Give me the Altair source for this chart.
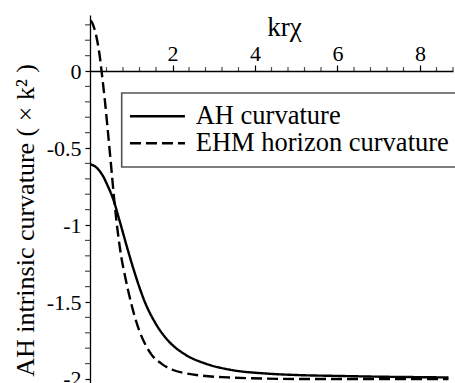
import altair as alt
import pandas as pd

# ---- data ----
ah_x = [0, 0.15, 0.3, 0.42, 0.56, 0.72, 0.92, 1.13, 1.33, 1.57, 1.89, 2.3, 2.8, 3.4, 4.3, 5.1, 6.0, 7.0, 8.0, 8.69]
ah_y = [-0.605, -0.625, -0.675, -0.74, -0.83, -0.975, -1.165, -1.35, -1.50, -1.63, -1.75, -1.84, -1.90, -1.94,
        -1.965, -1.975, -1.98, -1.985, -1.988, -1.99]

ehm_x = [0, 0.05, 0.1, 0.15, 0.2, 0.24, 0.28, 0.36, 0.44, 0.52, 0.6, 0.68, 0.76, 0.84, 0.92, 1.0, 1.08, 1.2,
         1.33, 1.5, 1.73, 2.0, 2.3, 2.7, 3.2, 3.9, 5.0, 8.69]
ehm_y = [0.33, 0.315, 0.28, 0.23, 0.16, 0.09, 0.0, -0.19, -0.41, -0.64, -0.87, -1.06, -1.21, -1.32, -1.42,
         -1.51, -1.59, -1.69, -1.77, -1.845, -1.90, -1.94, -1.962, -1.978, -1.988, -1.995, -2.0, -2.0]

series_names = ["AH curvature", "EHM horizon curvature"]

x_major = [2, 4, 6, 8]
x_minor = [0.4, 0.8, 1.2, 1.6, 2.4, 2.8, 3.2, 3.6, 4.4, 4.8, 5.2, 5.6, 6.4, 6.8, 7.2, 7.6, 8.4, 8.8]
y_major = [0, -0.5, -1, -1.5, -2]
y_minor = [0.3, 0.2, 0.1, -0.1, -0.2, -0.3, -0.4, -0.6, -0.7, -0.8, -0.9, -1.1, -1.2, -1.3,
           -1.4, -1.6, -1.7, -1.8, -1.9]

x_domain = [0, 8.8]
y_domain = [-2.026, 0.364]

rows = [{"x": a, "y": b, "series": series_names[0]} for a, b in zip(ah_x, ah_y)]
rows += [{"x": a, "y": b, "series": series_names[1]} for a, b in zip(ehm_x, ehm_y)]
df = pd.DataFrame(rows)
xminor_df = pd.DataFrame({"x": x_minor, "y": [0] * len(x_minor)})
yminor_df = pd.DataFrame({"x": [0] * len(y_minor), "y": y_minor})

FONT = "Liberation Serif"
label_expr = "datum.value < 0 ? '-' + format(-datum.value, '~g') : format(datum.value, '~g')"

xscale = alt.Scale(domain=x_domain, nice=False, zero=False)
yscale = alt.Scale(domain=y_domain, nice=False, zero=False)

xaxis = alt.Axis(orient="top", offset=-56, values=x_major, title="krχ",
                 titleX=194, titleY=-36, titleBaseline="alphabetic", titleAlign="center",
                 labelBaseline="alphabetic", labelPadding=5, tickSize=6, grid=False,
                 labelExpr=label_expr)
yaxis = alt.Axis(orient="left", values=y_major, title="AH intrinsic curvature ( × k² )",
                 titleAngle=270, titleX=-57, titleY=205, titleBaseline="alphabetic",
                 titleAlign="center", labelPadding=4, tickSize=5, grid=False,
                 labelExpr=label_expr)

X = alt.X("x:Q", scale=xscale, axis=xaxis)
Y = alt.Y("y:Q", scale=yscale, axis=yaxis)

lines = alt.Chart(df).mark_line(color="black", strokeWidth=2.4, interpolate="monotone", clip=True).encode(
    x=X,
    y=Y,
    strokeDash=alt.StrokeDash(
        "series:N",
        scale=alt.Scale(domain=series_names, range=[[1, 0], [11, 5]]),
        legend=alt.Legend(title=None, orient="none", legendX=31.7, legendY=78,
                          symbolType="M-2.5,0H2.5", symbolSize=484, symbolOffset=12.5,
                          symbolStrokeColor="black", symbolStrokeWidth=2.4,
                          labelFont=FONT, labelFontSize=26.5, labelOffset=25, labelColor="black",
                          labelLimit=0, rowPadding=-4, padding=10, fillColor="white",
                          strokeColor="#555555"),
    ),
)

xminor = alt.Chart(xminor_df).mark_tick(orient="vertical", size=4, thickness=1.2, color="black",
                                        yOffset=-2, clip=False).encode(x=X, y=Y)
yminor = alt.Chart(yminor_df).mark_tick(orient="horizontal", size=5, thickness=1.2, color="black",
                                        xOffset=-2.5, clip=False).encode(x=X, y=Y)

chart = alt.layer(lines, xminor, yminor).properties(
    width=363, height=368,
    autosize=alt.AutoSizeParams(type="none"),
    padding={"left": 90, "top": 15, "right": 2, "bottom": 0},
).configure(
    style={"guide-label": {"font": FONT, "fontSize": 22, "fill": "black"},
           "guide-title": {"font": FONT, "fill": "black"}},
    view={"stroke": None},
    axis={"domainColor": "black", "tickColor": "black", "labelColor": "black", "titleColor": "black",
          "domainWidth": 1.3, "tickWidth": 1.2, "labelFont": FONT, "titleFont": FONT,
          "labelFontSize": 22, "titleFontWeight": "normal"},
    axisX={"titleFontSize": 27, "labelFontSize": 22},
    axisY={"titleFontSize": 26, "labelFontSize": 22},
    legend={"strokeWidth": 1.6, "labelFont": FONT},
)

chart.save("out.html", embed_options={"renderer": "svg", "actions": False})
